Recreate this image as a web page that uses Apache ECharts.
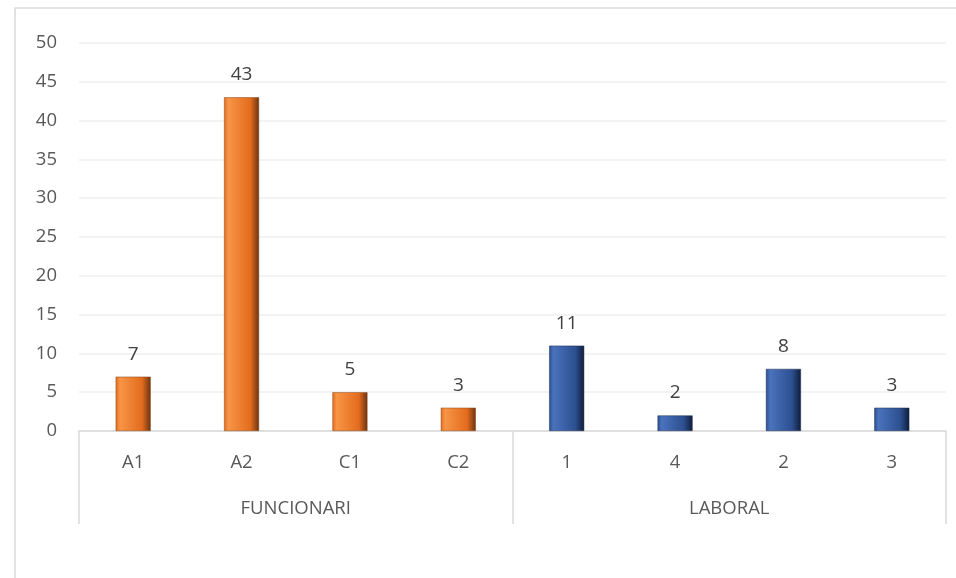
<!DOCTYPE html>
<html>
<head>
<meta charset="utf-8">
<script src="https://cdn.jsdelivr.net/npm/echarts@6/dist/echarts.min.js"></script>
<style>
  html, body { margin: 0; padding: 0; background: #fff; }
  #chart { width: 956px; height: 578px; }
</style>
</head>
<body>
<div id="chart"></div>
<script>
// categorias i valors
var categories = ['A1', 'A2', 'C1', 'C2', '1', '4', '2', '3'];
var groups = ['FUNCIONARI', 'LABORAL'];
var values = [7, 43, 5, 3, 11, 2, 8, 3];
// quines barres son de cada grup (0 = funcionari, 1 = laboral)
var groupOf = [0, 0, 0, 0, 1, 1, 1, 1];
var yTicks = { min: 0, max: 50, interval: 5 };

var FONT = '"Open Sans", "Noto Sans", sans-serif';

// degradat per imitar el bisell de les barres
function bevel(dark, mid, light) {
  return new echarts.graphic.LinearGradient(0, 0, 1, 0, [
    { offset: 0, color: mid },
    { offset: 0.12, color: light },
    { offset: 0.75, color: mid },
    { offset: 1, color: dark }
  ]);
}
var orange = bevel('#6b3410', '#e46c1e', '#f79546');
var blue = bevel('#101c38', '#2c4f8f', '#4a73bd');

var barData = values.map(function (v, i) {
  return {
    value: v,
    itemStyle: {
      color: groupOf[i] === 0 ? orange : blue,
      borderColor: groupOf[i] === 0 ? '#8a4515' : '#1a2d55',
      borderWidth: 0.5
    }
  };
});

var myChart = echarts.init(document.getElementById('chart'));
myChart.setOption({
  animation: false,
  textStyle: { fontFamily: FONT },
  graphic: [{
    type: 'rect',
    shape: { x: 15, y: 8, width: 1000, height: 1000 },
    style: { fill: 'none', stroke: '#d9d9d9', lineWidth: 1.5 },
    silent: true,
    z: -10
  }],
  grid: { left: 79, right: 10, top: 43, bottom: 147 },
  xAxis: [
    {
      type: 'category',
      data: categories,
      axisLine: { lineStyle: { color: '#d9d9d9', width: 1.5 } },
      axisTick: { show: false },
      axisLabel: { color: '#595959', fontSize: 18.5, margin: 22, fontFamily: FONT }
    },
    {
      type: 'category',
      data: groups,
      position: 'bottom',
      axisLine: { show: false },
      axisTick: { show: true, length: 93, lineStyle: { color: '#d9d9d9', width: 1.5 } },
      axisLabel: { color: '#595959', fontSize: 18.5, margin: 68, fontFamily: FONT },
      splitLine: { show: false }
    }
  ],
  yAxis: {
    type: 'value',
    min: yTicks.min,
    max: yTicks.max,
    interval: yTicks.interval,
    axisLine: { show: false },
    axisTick: { show: false },
    axisLabel: { color: '#595959', fontSize: 18.5, margin: 22, fontFamily: FONT },
    splitLine: { lineStyle: { color: '#efefef', width: 1.5 } }
  },
  series: [{
    type: 'bar',
    xAxisIndex: 0,
    data: barData,
    barWidth: 35,
    label: {
      show: true,
      position: 'top',
      distance: 13,
      color: '#404040',
      fontSize: 19,
      fontFamily: FONT
    }
  }]
});
</script>
</body>
</html>
